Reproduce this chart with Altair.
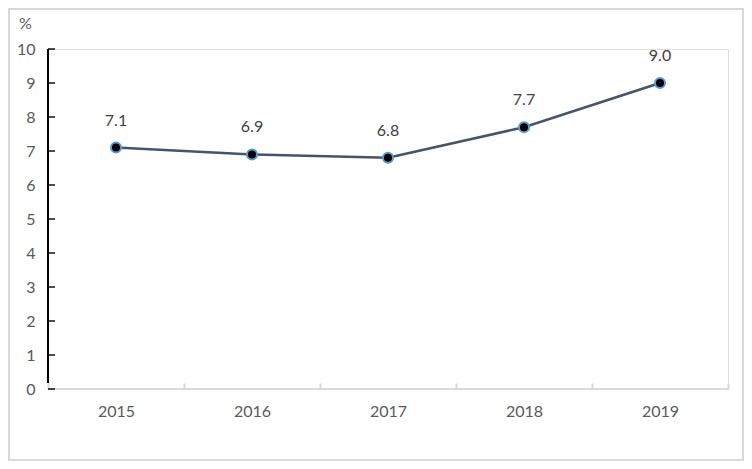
import altair as alt
import pandas as pd

years = ["2015", "2016", "2017", "2018", "2019"]
values = [7.1, 6.9, 6.8, 7.7, 9.0]
labels = ["7.1", "6.9", "6.8", "7.7", "9.0"]
y_ticks = [0, 1, 2, 3, 4, 5, 6, 7, 8, 9, 10]

df = pd.DataFrame({"year": years, "value": values, "label": labels})
tick_df = pd.DataFrame({"value": y_ticks})

W, H = 680, 340
FONT = "Lato"
TXT = "#595959"

x_axis = alt.Axis(
    title=None, domain=False, labelAngle=0, labelColor=TXT, labelFont=FONT,
    labelFontSize=16, labelPadding=14, ticks=True, tickColor="#D9D9D9",
    tickWidth=2, tickSize=6, offset=-6, tickBand="extent",
)
y_axis = alt.Axis(
    values=y_ticks, grid=False, domain=False, ticks=False,
    labelColor=TXT, labelFont=FONT, labelFontSize=16,
    labelPadding=13, labelOverlap=False, title="%", titleAngle=0, titleAlign="center",
    titleBaseline="middle", titleX=-23, titleY=-26, titleColor=TXT,
    titleFont=FONT, titleFontSize=16, titleFontWeight="normal",
)
x_scale = alt.Scale(paddingInner=0, paddingOuter=0)
y_scale = alt.Scale(domain=[0, 10], nice=False, zero=True)

x_enc = alt.X("year:O", sort=years, scale=x_scale, axis=x_axis)
y_enc = alt.Y("value:Q", scale=y_scale, axis=y_axis)

base = alt.Chart(df)

line = base.mark_line(color="#44546A", strokeWidth=2.5).encode(x=x_enc, y=y_enc)

border = base.mark_rect(fill=None, stroke="#D9D9D9", strokeWidth=2).encode(
    x=alt.value(-39), x2=alt.value(695), y=alt.value(-40), y2=alt.value(411)
).transform_filter(alt.datum.year == "2015")

xdomain = base.mark_rule(color="#D9D9D9", strokeWidth=2).encode(
    y=alt.Y(datum=0, type="quantitative", scale=y_scale, axis=y_axis)
).transform_filter(alt.datum.year == "2015")

ydomain = base.mark_rule(color="#000000", strokeWidth=2).encode(
    x=alt.value(0), y=alt.value(0), y2=alt.value(H - 6)
).transform_filter(alt.datum.year == "2015")

yticks = alt.Chart(tick_df).mark_tick(color="#000000", thickness=2, size=7,
                                       orient="horizontal").encode(
    y=y_enc, x=alt.value(3.5)
)

points = base.mark_circle(size=100, color="#000000", opacity=1, stroke="#5B9BD5",
                          strokeWidth=2).encode(x=x_enc, y=y_enc)
text = base.mark_text(dy=-27, baseline="middle", font=FONT, fontSize=16,
                      color="#404040").encode(x=x_enc, y=y_enc, text="label:N")

chart = alt.layer(line, border, xdomain, ydomain, yticks, points, text).properties(
    width=W, height=H,
    autosize=alt.AutoSizeParams(type="none"),
    padding={"left": 40, "top": 41, "right": 16, "bottom": 72},
).configure_view(stroke=None).configure(background="white")

chart.save("out.html", embed_options={"renderer": "svg", "actions": False})
